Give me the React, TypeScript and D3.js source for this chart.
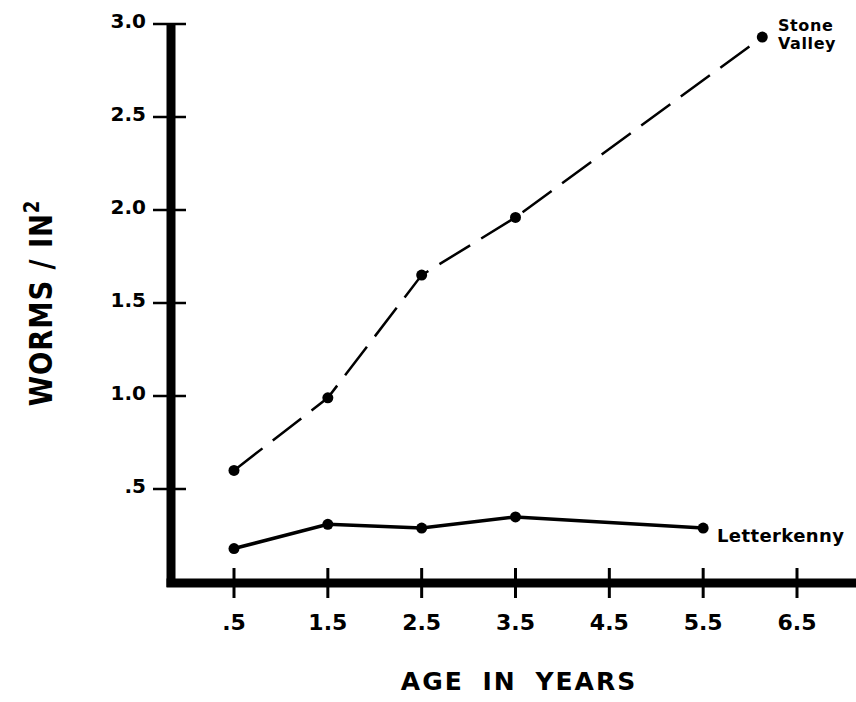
import React from "react";
import * as d3 from "d3";

// values
const stoneAge = [0.5, 1.5, 2.5, 3.5, 6.13];
const stoneWorms = [0.6, 0.99, 1.65, 1.96, 2.93];
const letterAge = [0.5, 1.5, 2.5, 3.5, 5.5];
const letterWorms = [0.18, 0.31, 0.29, 0.35, 0.29];

const xTicks = [0.5, 1.5, 2.5, 3.5, 4.5, 5.5, 6.5];
const xTickLabels = [".5", "1.5", "2.5", "3.5", "4.5", "5.5", "6.5"];
const yTicks = [0.5, 1.0, 1.5, 2.0, 2.5, 3.0];
const yTickLabels = [".5", "1.0", "1.5", "2.0", "2.5", "3.0"];

const W = 856;
const H = 702;
const font = "'DejaVu Sans', sans-serif";

export default function App() {
	const x = d3.scaleLinear().domain([0.5, 6.5]).range([234, 797]);
	const y = d3.scaleLinear().domain([0, 3]).range([582, 24]);

	const stone = stoneAge.map((a, i) => ({ a, w: stoneWorms[i] }));
	const letter = letterAge.map((a, i) => ({ a, w: letterWorms[i] }));

	const line = d3
		.line<{ a: number; w: number }>()
		.x((d) => x(d.a))
		.y((d) => y(d.w));

	const axisX = 171;
	const axisY = 583;

	return (
		<svg width={W} height={H} style={{ position: "absolute", left: 0, top: 0, background: "#fff" }}>
			{/* y axis */}
			<line x1={axisX} x2={axisX} y1={y(3)} y2={axisY + 4} stroke="#000" strokeWidth={9} />
			{yTicks.map((t, i) => (
				<g key={t}>
					<line x1={153} x2={186} y1={y(t)} y2={y(t)} stroke="#000" strokeWidth={2.5} />
					<text
						x={146}
						y={y(t) - 3}
						dy="0.36em"
						textAnchor="end"
						fontFamily={font}
						fontWeight="bold"
						fontSize={20}
					>
						{yTickLabels[i]}
					</text>
				</g>
			))}

			{/* x axis */}
			<line x1={axisX - 4.5} x2={W} y1={axisY} y2={axisY} stroke="#000" strokeWidth={9} />
			{xTicks.map((t, i) => (
				<g key={t}>
					<line x1={x(t)} x2={x(t)} y1={568} y2={598} stroke="#000" strokeWidth={3} />
					<text
						x={x(t)}
						y={630}
						textAnchor="middle"
						fontFamily={font}
						fontWeight="bold"
						fontSize={22}
					>
						{xTickLabels[i]}
					</text>
				</g>
			))}

			{/* series */}
			<path d={line(stone) ?? ""} fill="none" stroke="#000" strokeWidth={2.5} strokeDasharray="36 13" />
			<path d={line(letter) ?? ""} fill="none" stroke="#000" strokeWidth={3.5} />
			{stone.map((d, i) => (
				<circle key={"s" + i} cx={x(d.a)} cy={y(d.w)} r={5.5} fill="#000" />
			))}
			{letter.map((d, i) => (
				<circle key={"l" + i} cx={x(d.a)} cy={y(d.w)} r={5.5} fill="#000" />
			))}

			{/* series labels */}
			<text x={778} y={31} fontFamily={font} fontWeight="bold" fontSize={16} letterSpacing={0.6}>
				Stone
			</text>
			<text x={778} y={49} fontFamily={font} fontWeight="bold" fontSize={16} letterSpacing={0.6}>
				Valley
			</text>
			<text x={717} y={542} fontFamily={font} fontWeight="bold" fontSize={18} letterSpacing={0.4}>
				Letterkenny
			</text>

			{/* axis titles */}
			<text
				x={519}
				y={690}
				textAnchor="middle"
				fontFamily={font}
				fontWeight="bold"
				fontSize={25}
				letterSpacing={2}
				wordSpacing={8}
			>
				AGE IN YEARS
			</text>
			<text
				transform={`translate(52,303) rotate(-90) scale(0.86,1)`}
				textAnchor="middle"
				fontFamily={font}
				fontWeight="bold"
				fontSize={32}
				letterSpacing={1}
			>
				WORMS / IN<tspan dy={-13} fontSize={21}>2</tspan>
			</text>
		</svg>
	);
}
